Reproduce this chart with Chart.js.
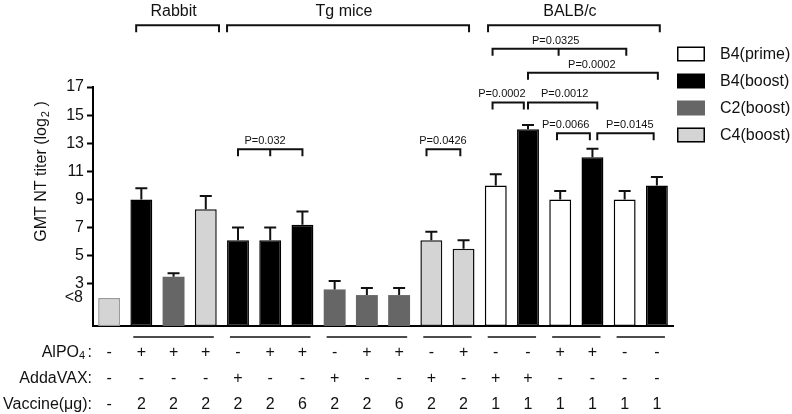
<!DOCTYPE html>
<html><head><meta charset="utf-8">
<script src="https://cdn.jsdelivr.net/npm/chart.js@4.4.0/dist/chart.umd.min.js"></script>
<style>html,body{margin:0;padding:0;background:#fff}#wrap{width:792px;height:414px;position:relative}</style>
</head><body><div id="wrap"><canvas id="c" width="792" height="414" style="width:792px;height:414px"></canvas></div>
<script>
const N = null;
const categories = ['c0','c1','c2','c3','c4','c5','c6','c7','c8','c9','c10','c11','c12','c13','c14','c15','c16','c17'];
const alpo4   = ['-','+','+','+','-','+','+','-','+','+','-','+','-','-','+','+','-','-'];
const addavax = ['-','-','-','-','+','-','-','+','-','-','+','-','+','+','-','-','-','-'];
const vaccine = ['-','2','2','2','2','2','6','2','2','6','2','2','1','1','1','1','1','1'];
const seriesNames = ['B4(prime)','B4(boost)','C2(boost)','C4(boost)'];
const b4Prime = [N,N,N,N,N,N,N,N,N,N,N,N,10,N,9,N,9,N];
const b4Boost = [N,9,N,N,6.1,6.1,7.2,N,N,N,N,N,N,14,N,12,N,10];
const c2Boost = [N,N,3.5,N,N,N,N,2.6,2.2,2.2,N,N,N,N,N,N,N,N];
const c4Boost = [2,N,N,8.3,N,N,N,N,N,N,6.1,5.5,N,N,N,N,N,N];
const errTop  = [N,9.8,3.75,9.25,7.0,7.0,8.15,3.2,2.7,2.7,6.7,6.1,10.8,14.3,9.6,12.6,9.6,10.6];
const yTickValues = [3,5,7,9,11,13,15,17];
const yTickLabels = ['3','5','7','9','11','13','15','17'];
const lowValue = 2, lowLabel = '<8';
const groupNames = ['Rabbit','Tg mice','BALB/c'];
const groupFrom = [0.84,3.66,11.76];
const groupTo   = [3.41,11.17,17.09];
const groupLevel = 21.4;
const pLabels = ['P=0.032','P=0.0426','P=0.0002','P=0.0012','P=0.0066','P=0.0145','P=0.0325','P=0.0002'];
const pFrom  = [4, 9.85, 11.9, 13, 13.9, 15.15, 11.9, 13];
const pTo    = [6, 10.9, 12.87, 15.15, 14.92, 16.9, 16.05, 17.03];
const pMid   = [5, N, N, N, N, N, 13.95, N];
const pTextAt = [4.84, 10.36, 12.19, 14.14, 14.17, 16.16, 13.86, 14.98];
const pLevel = [12.58, 12.58, 15.9, 15.9, 13.71, 13.71, 19.72, 18.02];
const underFrom = [1,4,7,10,12,14,16];
const underTo   = [3,6,9,11,13,15,17];

const FONT = '"Liberation Sans", Arial, sans-serif';
const INK = '#111';
const fills = ['#ffffff','#000000','#666666','#d4d4d4'];
const borders = ['#000000','#000000','#5a5a5a','#111111'];

const annot = {
  id:'annot',
  afterDatasetsDraw(chart){
    const ctx = chart.ctx, x = chart.scales.x, y = chart.scales.y;
    ctx.save();
    ctx.strokeStyle = INK; ctx.lineWidth = 2;
    errTop.forEach((e,i)=>{
      if(e===null) return;
      let bar=null;
      chart.data.datasets.forEach((ds,di)=>{ if(ds.data[i]!==null) bar = chart.getDatasetMeta(di).data[i]; });
      if(!bar) return;
      const ey = y.getPixelForValue(e);
      ctx.beginPath();
      ctx.moveTo(bar.x, bar.y); ctx.lineTo(bar.x, ey);
      ctx.moveTo(bar.x-6, ey); ctx.lineTo(bar.x+6, ey);
      ctx.stroke();
    });
    ctx.restore();
  },
  afterDraw(chart){
    const ctx = chart.ctx, x = chart.scales.x, y = chart.scales.y;
    const px = v => x.getPixelForValue(v);
    ctx.save();
    ctx.strokeStyle = INK; ctx.fillStyle = INK; ctx.lineWidth = 2;
    ctx.textAlign='center'; ctx.textBaseline='middle';
    ctx.font = '16px '+FONT;
    groupNames.forEach((g,i)=>{
      const x0=px(groupFrom[i]), x1=px(groupTo[i]), yy=y.getPixelForValue(groupLevel);
      ctx.beginPath(); ctx.moveTo(x0,yy+7); ctx.lineTo(x0,yy); ctx.lineTo(x1,yy); ctx.lineTo(x1,yy+7); ctx.stroke();
      ctx.fillText(g,(x0+x1)/2 - 4, yy-14);
    });
    ctx.font = '11px '+FONT;
    pLabels.forEach((p,i)=>{
      const x0=px(pFrom[i]), x1=px(pTo[i]), yy=y.getPixelForValue(pLevel[i]);
      ctx.beginPath(); ctx.moveTo(x0,yy+7); ctx.lineTo(x0,yy); ctx.lineTo(x1,yy); ctx.lineTo(x1,yy+7);
      if(pMid[i]!==null){ const xm=px(pMid[i]); ctx.moveTo(xm,yy); ctx.lineTo(xm,yy+7); }
      ctx.stroke();
      ctx.fillText(p, px(pTextAt[i]), yy-8);
    });
    ctx.textAlign='right'; ctx.font='16px '+FONT;
    ctx.fillText(lowLabel, y.left + y.width - 10, y.getPixelForValue(lowValue));
    ctx.lineWidth = 1.5;
    const uy = chart.chartArea.bottom + 11;
    underFrom.forEach((f,i)=>{
      ctx.beginPath(); ctx.moveTo(px(f-0.25),uy); ctx.lineTo(px(underTo[i]+0.25),uy); ctx.stroke();
    });
    ctx.textAlign='right'; ctx.font='16px '+FONT;
    const r0 = chart.chartArea.bottom + 27, rs = 26;
    ctx.fillText(':', 92, r0);
    ctx.font='11px '+FONT; ctx.fillText('4', 85, r0+3);
    ctx.font='16px '+FONT; ctx.fillText('AlPO', 79, r0);
    ctx.fillText('AddaVAX:', 92, r0+rs);
    ctx.fillText('Vaccine(\u03bcg):', 92, r0+2*rs);
    ctx.save();
    ctx.translate(42, 172); ctx.rotate(-Math.PI/2);
    ctx.textAlign='left';
    ctx.font='16px '+FONT;
    const a='GMT NT titer (log', c=' )';
    const wa=ctx.measureText(a).width, wc=ctx.measureText(c).width;
    ctx.font='11px '+FONT; const wb=ctx.measureText('2').width;
    const tot=wa+wb+wc; let sx=-tot/2;
    ctx.font='16px '+FONT; ctx.fillText(a,sx,0); sx+=wa;
    ctx.font='11px '+FONT; ctx.fillText('2',sx+1,4); sx+=wb+1;
    ctx.font='16px '+FONT; ctx.fillText(c,sx,0);
    ctx.restore();
    ctx.textAlign='left'; ctx.font='16px '+FONT;
    seriesNames.forEach((s,i)=>{
      const cy = 54 + i*27;
      ctx.fillStyle = fills[i]; ctx.fillRect(677, cy-7.5, 28, 15);
      if(i!==1 && i!==2){ ctx.strokeStyle='#000'; ctx.lineWidth=1.5; ctx.strokeRect(677.75, cy-6.75, 26.5, 13.5); }
      ctx.fillStyle = INK; ctx.fillText(s, 720, cy+1);
    });
    ctx.restore();
  }
};

const mkDs = (label, data, i, bc) => ({
  label, data, backgroundColor: fills[i], borderColor: bc || borders[i],
  borderWidth: i===2 ? 0 : 1.5, borderSkipped: false,
  barPercentage: 0.68, categoryPercentage: 1, grouped: false
});

new Chart(document.getElementById('c'), {
  type: 'bar',
  data: {
    labels: categories,
    datasets: [
      mkDs(seriesNames[0], b4Prime, 0),
      mkDs(seriesNames[1], b4Boost, 1),
      mkDs(seriesNames[2], c2Boost, 2),
      mkDs(seriesNames[3], c4Boost, 3, c4Boost.map((v,i)=> i===0 ? '#9a9a9a' : '#111111'))
    ]
  },
  options: {
    responsive: false, animation: false, devicePixelRatio: 1,
    layout: { padding: { left: 0, right: 119, top: 87, bottom: 0 } },
    plugins: { legend: { display: false }, tooltip: { enabled: false } },
    scales: {
      x: {
        grid: { display: false, drawTicks: false },
        border: { display: true, color: '#000', width: 2 },
        ticks: {
          padding: 14, color: INK, maxRotation: 0, autoSkip: false,
          font: { family: FONT, size: 16, lineHeight: 26/16 },
          callback: (v, i) => [alpo4[i], addavax[i], vaccine[i]]
        },
        afterFit: s => { s.height = 88; }
      },
      y: {
        min: 0, max: 17,
        border: { display: true, color: '#000', width: 2 },
        grid: { drawOnChartArea: false, drawTicks: true, tickLength: 6, tickWidth: 2, tickColor: '#000' },
        afterBuildTicks: s => { s.ticks = yTickValues.map(v => ({ value: v })); },
        ticks: {
          padding: 3, color: INK, font: { family: FONT, size: 16 }, autoSkip: false,
          callback: v => yTickLabels[yTickValues.indexOf(v)]
        },
        afterFit: s => { s.width = 93; }
      }
    }
  },
  plugins: [annot]
});
</script></body></html>
